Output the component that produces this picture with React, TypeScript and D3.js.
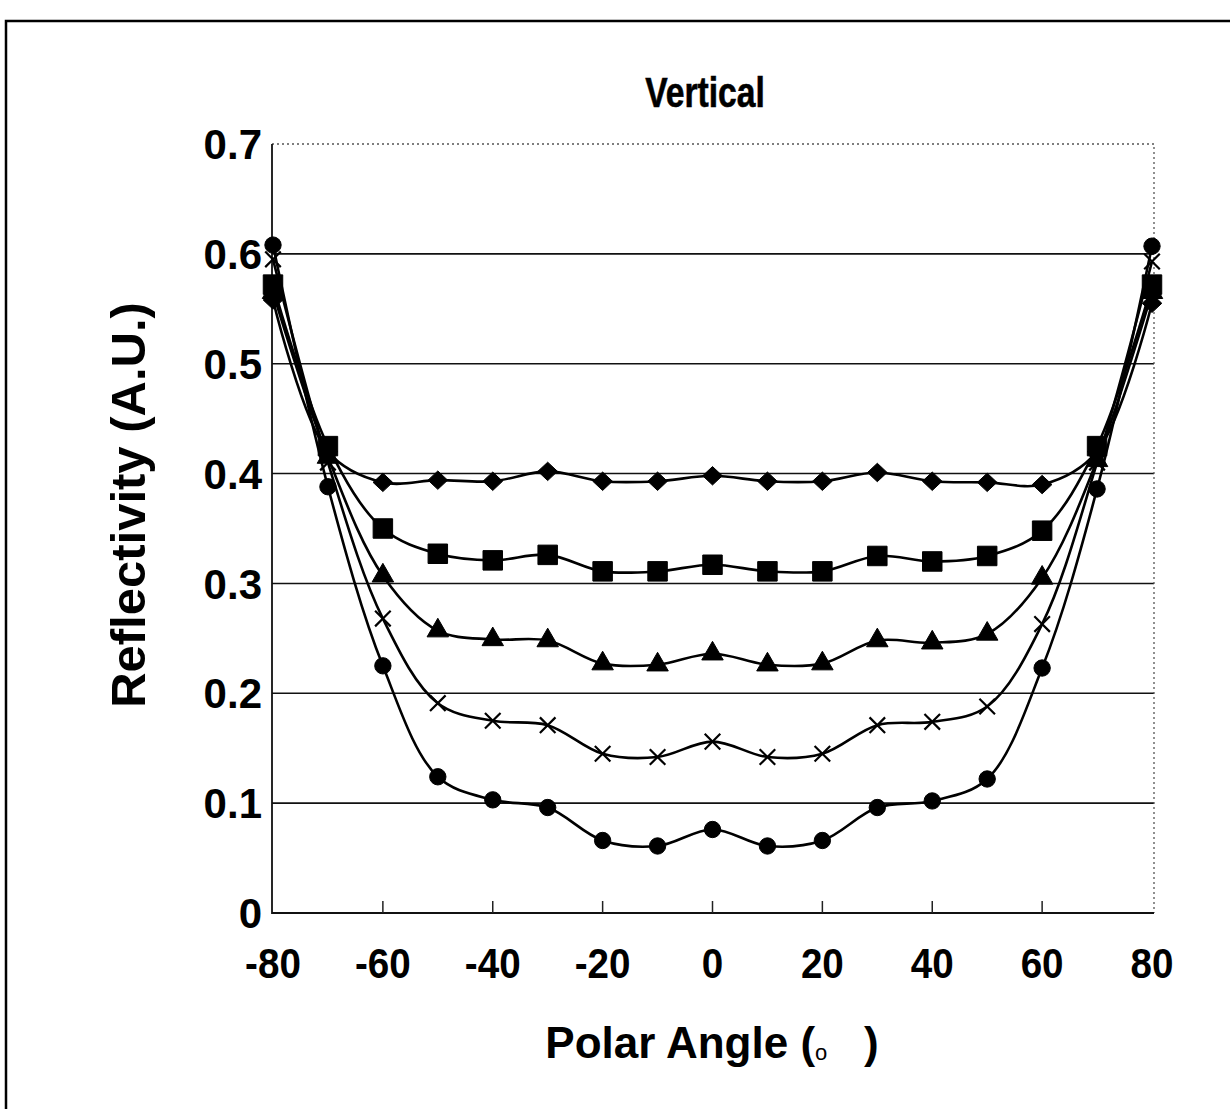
import React, { useEffect, useRef } from 'react'
import * as d3 from 'd3'

const angles = [-80, -70, -60, -50, -40, -30, -20, -10, 0, 10, 20, 30, 40, 50, 60, 70, 80]

const diamondSeries = [0.558, 0.42, 0.392, 0.394, 0.393, 0.402, 0.393, 0.393, 0.398, 0.393, 0.393, 0.401, 0.393, 0.392, 0.39, 0.42, 0.555]
const squareSeries = [0.572, 0.425, 0.35, 0.327, 0.321, 0.326, 0.311, 0.311, 0.317, 0.311, 0.311, 0.325, 0.32, 0.325, 0.348, 0.425, 0.572]
const triangleSeries = [0.565, 0.415, 0.307, 0.257, 0.249, 0.248, 0.227, 0.226, 0.236, 0.226, 0.227, 0.248, 0.246, 0.254, 0.305, 0.412, 0.565]
const crossSeries = [0.595, 0.41, 0.268, 0.191, 0.175, 0.171, 0.145, 0.142, 0.156, 0.142, 0.145, 0.171, 0.174, 0.188, 0.263, 0.41, 0.593]
const circleSeries = [0.608, 0.388, 0.225, 0.124, 0.103, 0.096, 0.066, 0.061, 0.076, 0.061, 0.066, 0.096, 0.102, 0.122, 0.223, 0.386, 0.607]

const xTicks = [-80, -60, -40, -20, 0, 20, 40, 60, 80]
const yTicks = [0, 0.1, 0.2, 0.3, 0.4, 0.5, 0.6, 0.7]

type Marker = 'diamond' | 'square' | 'triangle' | 'cross' | 'circle'

const seriesList: { values: number[]; marker: Marker }[] = [
  { values: diamondSeries, marker: 'diamond' },
  { values: squareSeries, marker: 'square' },
  { values: triangleSeries, marker: 'triangle' },
  { values: crossSeries, marker: 'cross' },
  { values: circleSeries, marker: 'circle' },
]

// Excel-style diamond: a bit wider than tall
const wideDiamond: d3.SymbolType = {
  draw(context, size) {
    const w = Math.sqrt(size) * 0.8
    const h = w * 0.94
    context.moveTo(0, -h)
    context.lineTo(w, 0)
    context.lineTo(0, h)
    context.lineTo(-w, 0)
    context.closePath()
  },
}

export default function App() {
  const svgRef = useRef<SVGSVGElement>(null)

  useEffect(() => {
    const width = 1230
    const height = 1109
    const margin = { top: 144, right: 78, bottom: 196, left: 272 }
    const font = 'Liberation Sans, Arial, sans-serif'

    const svg = d3.select(svgRef.current)
    svg.selectAll('*').remove()
    svg.attr('width', width).attr('height', height).attr('viewBox', `0 0 ${width} ${height}`)

    svg.append('rect').attr('width', width).attr('height', height).attr('fill', '#fff')

    // outer frame (top + left only, like the scan)
    svg.append('path')
      .attr('d', `M6,${height} L6,21 L${width},21`)
      .attr('fill', 'none')
      .attr('stroke', '#000')
      .attr('stroke-width', 2.5)

    const x = d3.scaleLinear().domain([-80, 80]).range([margin.left + 1, width - margin.right])
    const y = d3.scaleLinear().domain([0, 0.7]).range([height - margin.bottom, margin.top])

    const x0 = x(-80) - 1
    const x1 = x(80) + 2
    const yb = y(0)
    const yt = y(0.7)

    // gridlines
    svg.append('g')
      .selectAll('line')
      .data(yTicks.filter((t) => t > 0 && t < 0.7))
      .join('line')
      .attr('x1', x0)
      .attr('x2', x1)
      .attr('y1', (d) => y(d))
      .attr('y2', (d) => y(d))
      .attr('stroke', '#111')
      .attr('stroke-width', 1.6)

    // plot frame: dotted top/right, solid left/bottom
    svg.append('path')
      .attr('d', `M${x0},${yt} L${x1},${yt} L${x1},${yb}`)
      .attr('fill', 'none')
      .attr('stroke', '#555')
      .attr('stroke-width', 1.3)
      .attr('stroke-dasharray', '2,3')
    svg.append('path')
      .attr('d', `M${x0},${yt} L${x0},${yb} L${x1},${yb}`)
      .attr('fill', 'none')
      .attr('stroke', '#111')
      .attr('stroke-width', 1.8)

    // inner x ticks
    svg.append('g')
      .selectAll('line')
      .data(xTicks.slice(1, -1))
      .join('line')
      .attr('x1', (d) => x(d))
      .attr('x2', (d) => x(d))
      .attr('y1', yb)
      .attr('y2', yb - 12)
      .attr('stroke', '#222')
      .attr('stroke-width', 1.5)

    // tick labels
    svg.append('g')
      .selectAll('text')
      .data(yTicks)
      .join('text')
      .attr('x', 262)
      .attr('y', (d) => y(d))
      .attr('dy', '0.36em')
      .attr('text-anchor', 'end')
      .attr('font-family', font)
      .attr('font-weight', 'bold')
      .attr('font-size', 42)
      .text((d) => (d === 0 ? '0' : d3.format('.1f')(d)))

    svg.append('g')
      .selectAll('text')
      .data(xTicks)
      .join('text')
      .attr('transform', (d) => `translate(${x(d)},978) scale(0.92,1)`)
      .attr('text-anchor', 'middle')
      .attr('font-family', font)
      .attr('font-weight', 'bold')
      .attr('font-size', 42)
      .text((d) => String(d))

    // titles
    svg.append('text')
      .attr('transform', 'translate(705,107) scale(0.8,1)')
      .attr('text-anchor', 'middle')
      .attr('font-family', font)
      .attr('font-weight', 'bold')
      .attr('font-size', 42)
      .attr('stroke', '#000')
      .attr('stroke-width', 0.6)
      .text('Vertical')

    const xTitle = svg.append('text')
      .attr('x', 712)
      .attr('y', 1058)
      .attr('text-anchor', 'middle')
      .attr('font-family', font)
      .attr('font-weight', 'bold')
      .attr('font-size', 44)
    xTitle.append('tspan').text('Polar Angle (')
    xTitle.append('tspan').attr('font-size', 22).attr('font-weight', 'normal').attr('dy', 2).text('o')
    xTitle.append('tspan').attr('dy', -2).text('\u00a0\u00a0\u00a0)')

    svg.append('text')
      .attr('transform', 'translate(145,505) rotate(-90)')
      .attr('text-anchor', 'middle')
      .attr('font-family', font)
      .attr('font-weight', 'bold')
      .attr('font-size', 49)
      .text('Reflectivity (A.U.)')

    const line = d3.line<number>()
      .x((_, i) => x(angles[i]))
      .y((d) => y(d))
      .curve(d3.curveCatmullRom.alpha(0.5))

    const plot = svg.append('g')

    seriesList.forEach((s) => {
      plot.append('path')
        .attr('d', line(s.values))
        .attr('fill', 'none')
        .attr('stroke', '#000')
        .attr('stroke-width', 2.6)
    })

    const symbolFor: Record<Marker, d3.SymbolType> = {
      diamond: wideDiamond,
      square: d3.symbolSquare,
      triangle: d3.symbolTriangle,
      cross: d3.symbolX,
      circle: d3.symbolCircle,
    }
    const sizeFor: Record<Marker, number> = {
      diamond: 150,
      square: 380,
      triangle: 200,
      cross: 160,
      circle: 210,
    }

    seriesList.forEach((s) => {
      const sym = d3.symbol().type(symbolFor[s.marker]).size(sizeFor[s.marker])
      plot.append('g')
        .selectAll('path')
        .data(s.values)
        .join('path')
        .attr('transform', (d, i) => `translate(${x(angles[i])},${y(d)})`)
        .attr('d', sym() as string)
        .attr('fill', s.marker === 'cross' ? 'none' : '#000')
        .attr('stroke', '#000')
        .attr('stroke-width', s.marker === 'cross' ? 2.2 : 1)
    })
  }, [])

  return (
    <div style={{ position: 'absolute', left: 0, top: 0 }}>
      <svg ref={svgRef} role="img" aria-label="Vertical reflectivity vs polar angle" style={{ display: 'block' }} />
    </div>
  )
}
